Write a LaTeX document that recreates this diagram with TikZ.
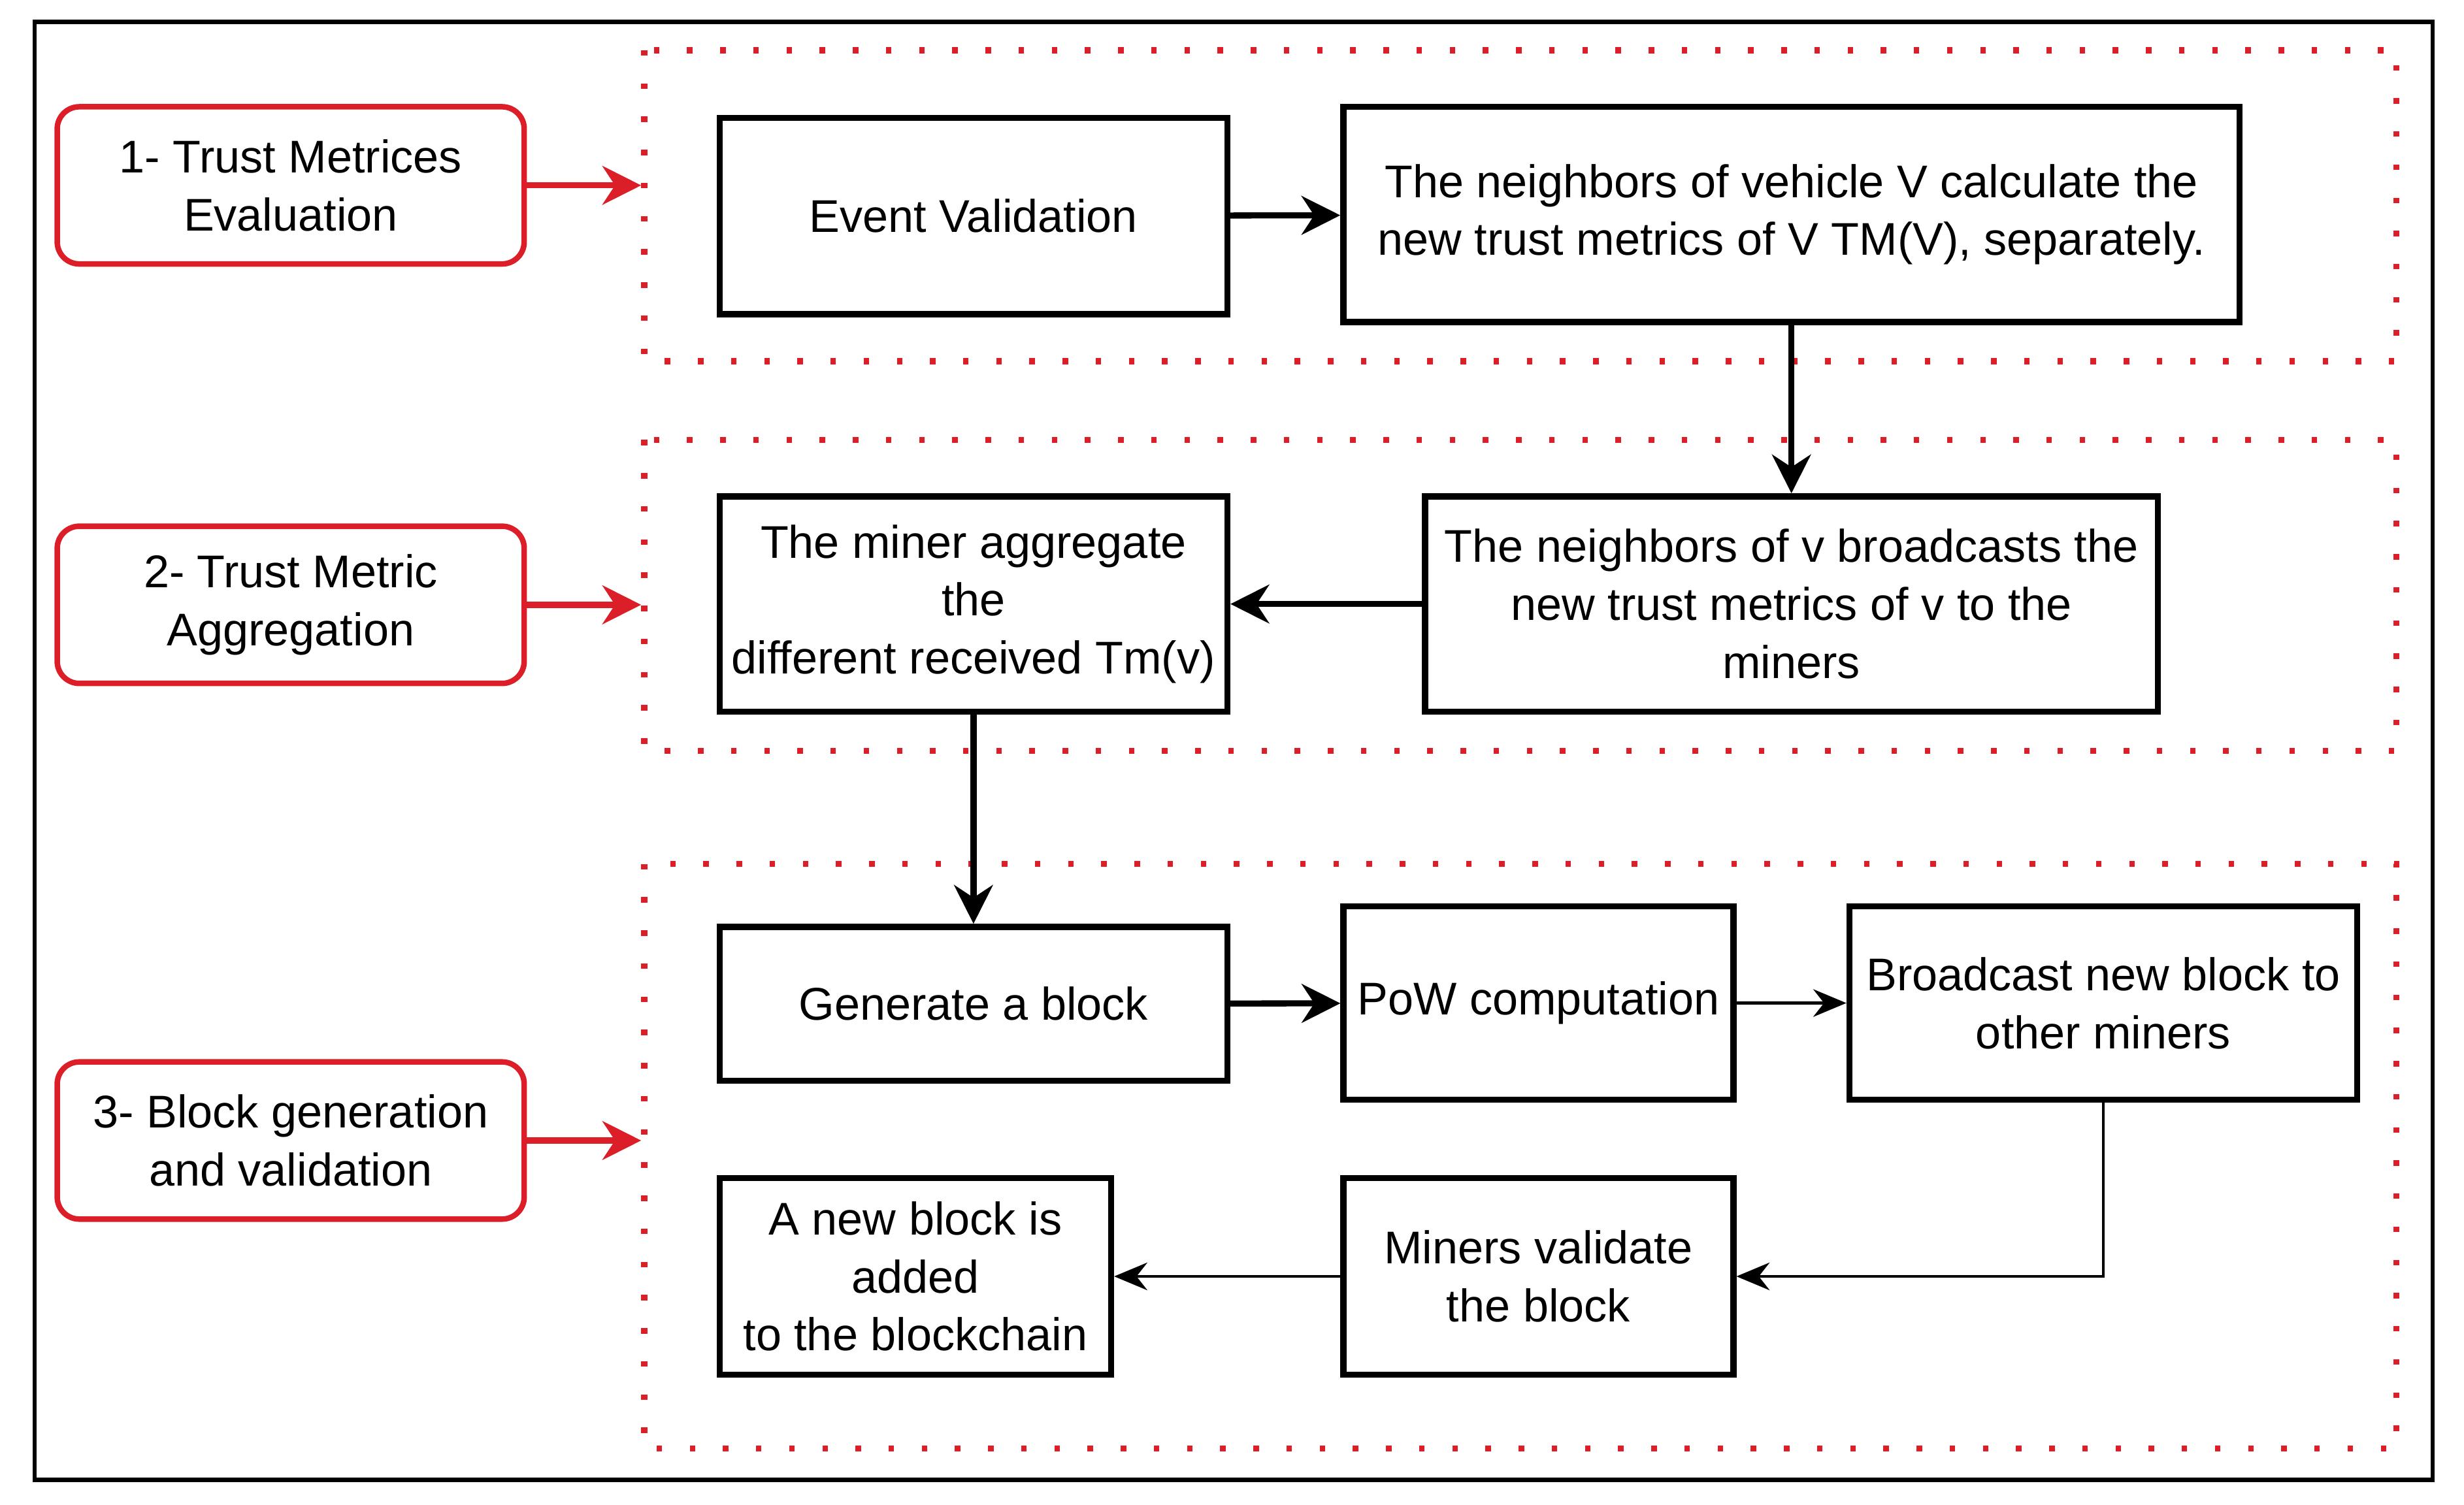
\documentclass[tikz,border=0pt]{standalone}
\usepackage{fontspec}
\setmainfont{Liberation Sans}
\usetikzlibrary{arrows.meta}
\definecolor{rd}{RGB}{220,30,40}
\begin{document}
\begin{tikzpicture}[x=0.01cm,y=-0.01cm,
 bx/.style={draw,line width=1.1pt,align=center,font=\fontsize{8.3}{10.5}\selectfont,inner sep=0pt},
 rb/.style={draw=rd,line width=1pt,rounded corners=4pt,align=center,font=\fontsize{8.3}{10.5}\selectfont},
 dz/.style={draw=rd,line width=1.1pt,dash pattern=on 1pt off 5pt},
 ta/.style={line width=1.1pt,-{Stealth[length=7pt,width=7pt]}},
 na/.style={line width=0.5pt,-{Stealth[length=6pt,width=5pt]}},
 ra/.style={draw=rd,line width=1.1pt,-{Stealth[length=7pt,width=7pt]}}]
\useasboundingbox (0,0) rectangle (1568,958);
\draw[line width=0.8pt] (22,14) rectangle (1548,942);
\draw[dz] (410,32) rectangle (1525,230);
\draw[dz] (410,280) rectangle (1525,478);
\draw[dz] (410,550) rectangle (1525,922);
\coordinate (d1) at (408,118);
\coordinate (d2) at (408,385);
\coordinate (d3) at (408,726);
\node[rb,minimum width=2.97cm,minimum height=1cm] (r1) at (185,118) {1- Trust Metrices\\Evaluation};
\node[rb,minimum width=2.97cm,minimum height=1cm] (r2) at (185,385) {2- Trust Metric\\Aggregation};
\node[rb,minimum width=2.97cm,minimum height=1cm] (r3) at (185,726) {3- Block generation\\and validation};
\draw[ra] (r1.east) -- (d1);
\draw[ra] (r2.east) -- (d2);
\draw[ra] (r3.east) -- (d3);
\node[bx,minimum width=3.23cm,minimum height=1.25cm] (ev) at (619.5,137.5) {Event Validation};
\node[bx,minimum width=5.7cm,minimum height=1.37cm] (n1) at (1140,136.5) {The neighbors of vehicle V calculate the\\new trust metrics of V TM(V), separately.};
\node[bx,minimum width=4.66cm,minimum height=1.37cm] (n2) at (1140,384.5) {The neighbors of v broadcasts the\\new trust metrics of v to the\\miners};
\node[bx,minimum width=3.23cm,minimum height=1.37cm] (ma) at (619.5,384.5) {The miner aggregate\\the\\different received Tm(v)};
\node[bx,minimum width=3.23cm,minimum height=0.98cm] (gb) at (619.5,639) {Generate a block};
\node[bx,minimum width=2.48cm,minimum height=1.23cm] (pw) at (979,638.5) {PoW computation};
\node[bx,minimum width=3.23cm,minimum height=1.23cm] (bc) at (1338.5,638.5) {Broadcast new block to\\other miners};
\node[bx,minimum width=2.48cm,minimum height=1.25cm] (mv) at (979,812.5) {Miners validate\\the block};
\node[bx,minimum width=2.49cm,minimum height=1.25cm] (an) at (582.5,812.5) {A new block is\\added\\to the blockchain};
\draw[ta] (ev) -- (n1);
\draw[ta] (n1) -- (n2);
\draw[ta] (n2) -- (ma);
\draw[ta] (ma) -- (gb);
\draw[ta] (gb) -- (pw);
\draw[na] (pw) -- (bc);
\draw[na] (bc.south) |- (mv.east);
\draw[na] (mv) -- (an);
\end{tikzpicture}
\end{document}
